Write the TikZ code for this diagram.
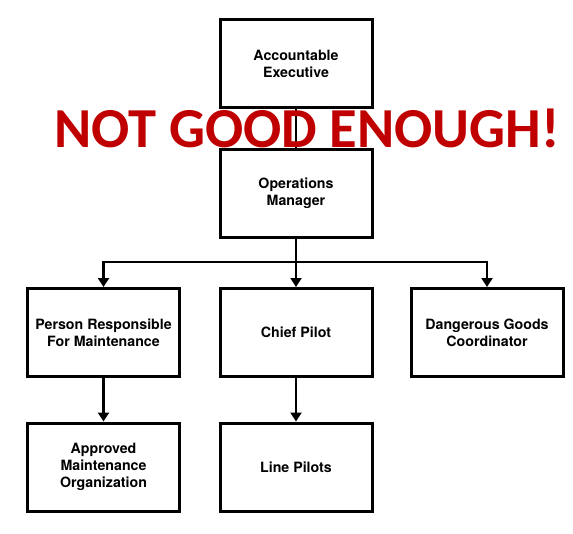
\documentclass[tikz,border=0pt]{standalone}
\usepackage{fontspec}
\setmainfont{TeX Gyre Heros}
\newfontfamily\stampfont{Carlito}
\usetikzlibrary{arrows.meta}
\definecolor{stampred}{HTML}{C00000}
\begin{document}
\begin{tikzpicture}[x=1pt, y=-1pt,
    post/.style={draw, line width=3pt, minimum width=152pt, minimum height=88pt,
                 align=center, font=\fontsize{14.2}{16.8}\selectfont\bfseries},
    link/.style={line width=2.2pt, -{Triangle[width=11pt,length=9pt]}}]
    \useasboundingbox (0,0) rectangle (573,533);
    \node[post] (acc) at (296, 63.5) {Accountable\\Executive};
    \node[post] (ops) at (296, 193.5) {Operations\\Manager};
    \node[post] (prm) at (103.5, 332.5) {Person Responsible\\For Maintenance};
    \node[post] (cp) at (296, 332.5) {Chief Pilot};
    \node[post] (dgc) at (487, 332.5) {Dangerous Goods\\Coordinator};
    \node[post] (amo) at (103.5, 467) {Approved\\Maintenance\\Organization};
    \node[post] (lp) at (296, 467) {Line Pilots};
    \draw[line width=2.2pt] (acc) -- (ops);
    \draw[link] (ops.south) -- ++(0,23) -| (prm.north);
    \draw[link] (ops.south) -- (cp.north);
    \draw[link] (ops.south) -- ++(0,23) -| (dgc.north);
    \draw[link] (prm) -- (amo);
    \draw[link] (cp) -- (lp);
    \node[text=stampred, font=\stampfont\bfseries\fontsize{56.5}{60}\selectfont, inner sep=0pt]
        (stamp) at (307, 128) {NOT GOOD ENOUGH!};
\end{tikzpicture}
\end{document}
